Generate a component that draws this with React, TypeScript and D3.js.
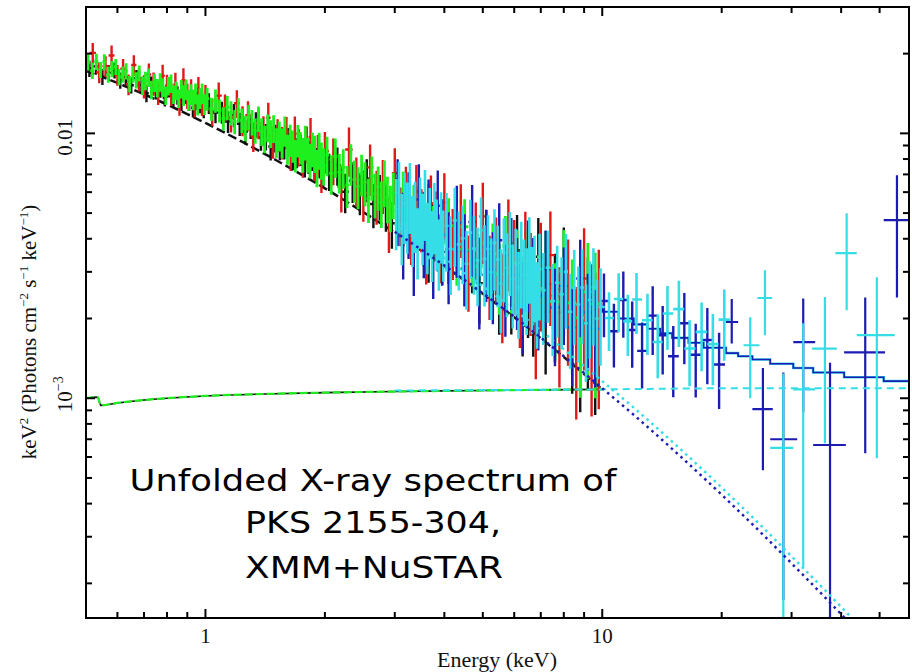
import React from "react";
import * as d3 from "d3";

const WIDTH = 912;
const HEIGHT = 672;
const PLOT = { left: 86, right: 909, top: 7, bottom: 618 };

// ---------- XMM-Newton, flux in units of 1e-3 keV^2 (Photons cm^-2 s^-1 keV^-1)
// green (MOS2)
const greenEnergy = [
  0.506, 0.519, 0.531, 0.544, 0.556, 0.569, 0.581, 0.594, 0.606, 0.619, 0.631, 0.644, 0.656, 0.669, 0.681, 0.694, 0.706, 0.719, 0.731, 0.744,
  0.756, 0.769, 0.781, 0.794, 0.806, 0.819, 0.831, 0.844, 0.856, 0.869, 0.881, 0.894, 0.906, 0.919, 0.931, 0.944, 0.956, 0.969, 0.981, 0.994,
  1.01, 1.035, 1.06, 1.085, 1.11, 1.135, 1.16, 1.185, 1.21, 1.235, 1.26, 1.285, 1.31, 1.335, 1.36, 1.385, 1.41, 1.435, 1.46, 1.485,
  1.51, 1.535, 1.56, 1.585, 1.61, 1.635, 1.66, 1.685, 1.71, 1.735, 1.76, 1.785, 1.81, 1.835, 1.86, 1.885, 1.91, 1.935, 1.96, 1.985,
  2.025, 2.075, 2.125, 2.175, 2.225, 2.275, 2.325, 2.375, 2.425, 2.475, 2.525, 2.575, 2.625, 2.675, 2.725, 2.775, 2.825, 2.875, 2.925, 2.975,
  3.05, 3.15, 3.25, 3.35, 3.45, 3.55, 3.65, 3.75, 3.85, 3.95,
  4.1, 4.3, 4.5, 4.7, 4.9, 5.1, 5.3, 5.5, 5.7, 5.9, 6.1, 6.3, 6.5, 6.7, 6.9,
  7.2, 7.6, 8.0, 8.4, 8.8, 9.2, 9.6,
];
const greenFlux = [
  18.56, 17.26, 18.67, 17.4, 18.61, 16.68, 17.53, 17.85, 16.35, 16.68, 17.18, 15.39, 16.7, 15.9, 16.87, 15.16, 15.81, 16.28, 14.63, 15.56,
  14.84, 15.61, 14.91, 13.91, 15.12, 15.44, 14.04, 14.5, 13.56, 14.72, 13.93, 14.66, 13.34, 14.06, 13.43, 14.15, 12.85, 13.57, 14.15, 12.88,
  13.52, 12.39, 13.3, 12.21, 11.4, 12.53, 11.97, 11.09, 12.28, 11.2, 10.49, 11.53, 11.04, 10.26, 11.37, 10.19, 9.55, 10.52, 10.0, 10.45,
  9.26, 9.82, 9.23, 10.24, 8.75, 9.46, 9.0, 8.28, 9.43, 8.88, 8.36, 9.3, 8.36, 7.94, 8.77, 8.44, 7.46, 8.67, 7.96, 7.56,
  8.3, 7.07, 8.18, 7.14, 7.44, 6.38, 7.71, 6.69, 6.31, 7.04, 6.54, 5.67, 6.88, 5.92, 6.3, 5.49, 6.58, 5.72, 5.29, 5.92,
  5.18, 5.87, 4.57, 5.23, 4.84, 4.1, 5.18, 4.29, 4.53, 3.86,
  4.48, 3.64, 4.44, 3.62, 3.15, 3.86, 3.51, 2.95, 3.75, 2.99, 3.25, 2.58, 3.28, 2.83, 2.6,
  3.1, 2.31, 3.02, 2.29, 2.01, 2.52, 2.27,
];
const greenErr = [
  0.07, 0.07, 0.07, 0.07, 0.07, 0.07, 0.07, 0.07, 0.07, 0.07, 0.07, 0.07, 0.07, 0.07, 0.07, 0.08, 0.08, 0.08, 0.08, 0.08,
  0.08, 0.08, 0.08, 0.08, 0.08, 0.08, 0.08, 0.08, 0.08, 0.08, 0.09, 0.09, 0.09, 0.09, 0.09, 0.09, 0.09, 0.09, 0.09, 0.09,
  0.1, 0.1, 0.1, 0.1, 0.1, 0.105, 0.105, 0.105, 0.105, 0.105, 0.11, 0.11, 0.11, 0.11, 0.11, 0.12, 0.12, 0.12, 0.12, 0.12,
  0.13, 0.13, 0.13, 0.13, 0.13, 0.14, 0.14, 0.14, 0.14, 0.14, 0.15, 0.15, 0.15, 0.15, 0.15, 0.16, 0.16, 0.16, 0.16, 0.16,
  0.17, 0.17, 0.17, 0.17, 0.17, 0.18, 0.18, 0.18, 0.18, 0.18, 0.19, 0.19, 0.19, 0.19, 0.19, 0.2, 0.2, 0.2, 0.2, 0.2,
  0.22, 0.22, 0.22, 0.22, 0.22, 0.24, 0.24, 0.24, 0.24, 0.24,
  0.27, 0.27, 0.27, 0.27, 0.27, 0.3, 0.3, 0.3, 0.3, 0.3, 0.33, 0.33, 0.33, 0.33, 0.33,
  0.38, 0.4, 0.43, 0.46, 0.5, 0.53, 0.56,
];

// red (MOS1)
const redEnergy = [
  0.52, 0.54, 0.56, 0.58, 0.6, 0.62, 0.64, 0.66, 0.68, 0.7, 0.72, 0.74, 0.76, 0.78, 0.8, 0.82, 0.84, 0.86, 0.88, 0.9, 0.92, 0.94, 0.96, 0.98, 1.0,
  1.04, 1.08, 1.12, 1.16, 1.2, 1.24, 1.28, 1.32, 1.36, 1.4, 1.44, 1.48, 1.52, 1.56, 1.6, 1.64, 1.68, 1.72, 1.76, 1.8, 1.84, 1.88, 1.92, 1.96, 2.0,
  2.1, 2.2, 2.3, 2.4, 2.5, 2.6, 2.7, 2.8, 2.9, 3.0,
  3.1, 3.2, 3.3, 3.4, 3.5, 3.6, 3.7, 3.8, 3.9, 4.0,
  4.2, 4.4, 4.6, 4.8, 5.0, 5.2, 5.4, 5.6, 5.8, 6.0, 6.2, 6.4, 6.6, 6.8, 7.0,
  7.4, 7.8, 8.2, 8.6, 9.0, 9.4, 9.8,
];
const redFlux = [
  20.13, 17.0, 17.94, 19.68, 16.62, 17.53, 15.32, 18.11, 15.99, 15.06, 16.69, 15.42, 14.23, 16.5, 15.12, 14.1, 15.27, 13.11, 15.87, 13.9, 14.43, 12.92, 14.72, 13.07, 13.71,
  12.09, 13.88, 12.51, 11.46, 13.0, 11.21, 11.7, 9.77, 10.92, 10.27, 11.45, 9.32, 9.91, 9.27, 10.12, 8.59, 9.98, 8.93, 8.09, 9.16, 9.69, 8.06, 8.35, 7.26, 8.58,
  7.97, 6.28, 8.69, 6.7, 5.95, 7.44, 5.87, 6.45, 4.65, 7.08,
  5.0, 5.99, 4.3, 6.03, 4.86, 3.68, 5.42, 4.71, 3.83, 5.48,
  3.99, 4.91, 3.12, 4.12, 4.86, 3.04, 3.54, 2.56, 4.08, 3.39, 2.58, 3.59, 2.96, 2.07, 3.19,
  3.47, 2.11, 2.65, 1.73, 2.83, 2.03, 2.27,
];
const redErr = [
  0.09, 0.09, 0.09, 0.09, 0.09, 0.09, 0.09, 0.09, 0.1, 0.1, 0.1, 0.1, 0.1, 0.1, 0.1, 0.1, 0.11, 0.11, 0.11, 0.11, 0.11, 0.11, 0.11, 0.11, 0.11,
  0.12, 0.12, 0.12, 0.12, 0.12, 0.13, 0.13, 0.13, 0.13, 0.13, 0.14, 0.14, 0.14, 0.14, 0.14, 0.16, 0.16, 0.16, 0.16, 0.16, 0.18, 0.18, 0.18, 0.18, 0.18,
  0.2, 0.2, 0.21, 0.21, 0.22, 0.22, 0.23, 0.23, 0.24, 0.24,
  0.25, 0.25, 0.26, 0.26, 0.27, 0.27, 0.28, 0.28, 0.29, 0.29,
  0.3, 0.31, 0.32, 0.33, 0.34, 0.35, 0.36, 0.37, 0.38, 0.39, 0.4, 0.41, 0.42, 0.43, 0.44,
  0.46, 0.48, 0.5, 0.52, 0.55, 0.58, 0.6,
];

// black (pn)
const blackEnergy = [
  0.51, 0.53, 0.55, 0.57, 0.59, 0.61, 0.63, 0.65, 0.67, 0.69, 0.71, 0.73, 0.75, 0.77, 0.79, 0.81, 0.83, 0.85, 0.87, 0.89, 0.91, 0.93, 0.95, 0.97, 0.99,
  1.02, 1.06, 1.1, 1.14, 1.18, 1.22, 1.26, 1.3, 1.34, 1.38, 1.42, 1.46, 1.5, 1.54, 1.58, 1.62, 1.66, 1.7, 1.74, 1.78, 1.82, 1.86, 1.9, 1.94, 1.98,
  2.05, 2.15, 2.25, 2.35, 2.45, 2.55, 2.65, 2.75, 2.85, 2.95,
  3.05, 3.15, 3.25, 3.35, 3.45, 3.55, 3.65, 3.75, 3.85, 3.95,
  4.1, 4.3, 4.5, 4.7, 4.9, 5.1, 5.3, 5.5, 5.7, 5.9, 6.1, 6.3, 6.5, 6.7, 6.9,
  7.2, 7.6, 8.0, 8.4, 8.8, 9.2, 9.6,
];
const blackFlux = [
  17.57, 17.9, 16.36, 16.93, 17.31, 15.86, 16.31, 15.2, 16.15, 15.21, 14.17, 15.24, 14.5, 14.73, 13.66, 14.84, 13.66, 13.94, 13.21, 14.04, 13.2, 12.49, 13.33, 12.94, 12.39,
  13.0, 11.99, 12.01, 11.08, 11.73, 10.87, 10.15, 10.63, 10.82, 9.65, 9.74, 8.92, 9.63, 8.99, 9.11, 9.32, 8.35, 8.49, 8.7, 7.88, 8.17, 8.39, 7.69, 7.9, 7.39,
  7.22, 7.59, 6.02, 6.62, 5.99, 6.74, 5.41, 5.83, 5.31, 4.58,
  5.62, 4.72, 4.88, 4.14, 5.13, 4.24, 3.59, 4.42, 4.01, 3.57,
  3.65, 4.24, 3.09, 3.51, 2.72, 3.93, 3.07, 2.59, 3.13, 2.68, 3.62, 2.28, 2.72, 2.35, 3.42,
  2.12, 2.44, 3.02, 2.0, 1.77, 2.24, 1.92,
];
const blackErr = [
  0.07, 0.07, 0.07, 0.07, 0.07, 0.07, 0.07, 0.07, 0.075, 0.075, 0.075, 0.075, 0.075, 0.075, 0.075, 0.08, 0.08, 0.08, 0.08, 0.08, 0.08, 0.08, 0.08, 0.08, 0.08,
  0.09, 0.09, 0.095, 0.095, 0.1, 0.1, 0.105, 0.105, 0.11, 0.11, 0.115, 0.115, 0.12, 0.12, 0.125, 0.125, 0.13, 0.13, 0.135, 0.135, 0.14, 0.14, 0.145, 0.145, 0.15,
  0.16, 0.165, 0.17, 0.175, 0.18, 0.185, 0.19, 0.195, 0.2, 0.2,
  0.21, 0.21, 0.22, 0.22, 0.23, 0.23, 0.24, 0.24, 0.25, 0.25,
  0.26, 0.27, 0.28, 0.29, 0.3, 0.31, 0.32, 0.33, 0.34, 0.35, 0.36, 0.37, 0.38, 0.39, 0.4,
  0.42, 0.44, 0.46, 0.48, 0.5, 0.52, 0.55,
];

// ---------- NuSTAR
// blue (FPMA)
const blueEnergy = [
  3.05, 3.15, 3.25, 3.35, 3.45, 3.55, 3.65, 3.75, 3.85, 3.95,
  4.1, 4.3, 4.5, 4.7, 4.9, 5.1, 5.3, 5.5, 5.7, 5.9, 6.1, 6.3, 6.5, 6.7, 6.9,
  7.2, 7.6, 8.0, 8.4, 8.8, 9.2, 9.6,
  10.1, 10.7, 11.3, 11.9, 12.6, 13.4, 14.2, 15.1, 16.1, 17.2, 18.4, 19.7,
];
const blueFlux = [
  5.87, 4.39, 5.24, 3.8, 5.62, 4.43, 4.92, 3.7, 5.33, 4.15,
  3.65, 4.6, 3.59, 4.63, 2.93, 3.72, 3.07, 3.95, 2.75, 3.47, 2.92, 2.37, 3.4, 2.92, 2.44,
  3.07, 2.2, 2.65, 1.85, 2.83, 2.11, 1.83,
  2.33, 1.79, 2.35, 1.81, 1.51, 2.05, 1.73, 1.44, 1.92, 1.46, 1.66, 1.34,
];
const blueErr = [
  0.36, 0.36, 0.36, 0.36, 0.36, 0.36, 0.36, 0.36, 0.36, 0.36,
  0.38, 0.38, 0.38, 0.38, 0.38, 0.38, 0.38, 0.38, 0.38, 0.38, 0.38, 0.38, 0.38, 0.38, 0.38,
  0.4, 0.4, 0.4, 0.4, 0.4, 0.4, 0.4,
  0.27, 0.27, 0.28, 0.28, 0.28, 0.29, 0.29, 0.3, 0.3, 0.31, 0.32, 0.32,
];
// cyan (FPMB)
const cyanEnergy = [
  3.025, 3.075, 3.125, 3.175, 3.225, 3.275, 3.325, 3.375, 3.425, 3.475, 3.525, 3.575, 3.625, 3.675, 3.725, 3.775, 3.825, 3.875, 3.925, 3.975,
  4.05, 4.15, 4.25, 4.35, 4.45, 4.55, 4.65, 4.75, 4.85, 4.95, 5.05, 5.15, 5.25, 5.35, 5.45,
  5.55, 5.65, 5.75, 5.85, 5.95, 6.05, 6.15, 6.25, 6.35, 6.45, 6.55, 6.65, 6.75, 6.85, 6.95,
  7.1, 7.3, 7.5, 7.7, 7.9, 8.1, 8.3, 8.5, 8.7, 8.9, 9.1, 9.3, 9.5, 9.7, 9.9,
  10.4, 11.0, 11.6, 12.2, 13.0, 13.8, 14.6, 15.6, 16.6, 17.8, 19.0, 20.3,
];
const cyanFlux = [
  5.17, 6.0, 4.54, 5.46, 5.02, 5.95, 4.47, 5.05, 4.01, 5.24, 4.55, 5.6, 4.2, 4.78, 3.92, 5.0, 4.33, 3.64, 4.61, 3.93,
  4.48, 3.66, 4.69, 3.81, 4.02, 3.22, 4.22, 3.67, 3.32, 4.31, 3.36, 3.66, 2.99, 3.86, 3.34,
  2.71, 3.54, 3.11, 3.74, 2.82, 3.21, 2.62, 3.41, 2.92, 2.71, 3.55, 2.74, 3.02, 2.4, 3.07,
  2.56, 3.11, 2.33, 2.73, 2.47, 3.0, 2.12, 2.61, 2.26, 2.62, 1.92, 2.35, 2.63, 2.0, 2.21,
  2.01, 2.37, 1.95, 2.36, 1.97, 1.63, 2.09, 2.17, 1.54, 1.78, 1.6, 1.98,
];
const cyanErr = [
  0.3, 0.3, 0.3, 0.3, 0.3, 0.3, 0.3, 0.3, 0.3, 0.3, 0.3, 0.3, 0.3, 0.3, 0.3, 0.3, 0.3, 0.3, 0.3, 0.3,
  0.33, 0.33, 0.33, 0.33, 0.33, 0.33, 0.33, 0.33, 0.33, 0.33, 0.34, 0.34, 0.34, 0.34, 0.34,
  0.35, 0.35, 0.35, 0.35, 0.35, 0.36, 0.36, 0.36, 0.36, 0.36, 0.36, 0.36, 0.36, 0.36, 0.36,
  0.38, 0.38, 0.38, 0.38, 0.38, 0.39, 0.39, 0.39, 0.39, 0.39, 0.4, 0.4, 0.4, 0.4, 0.4,
  0.25, 0.25, 0.26, 0.26, 0.26, 0.27, 0.27, 0.28, 0.28, 0.29, 0.3, 0.3,
];

// sparse high-energy NuSTAR bins
const blueHiEnergy = [21.2, 25.4, 28.6, 32.1, 37.5, 46.0, 55.3];
const blueHiBinLo = [20.5, 23.9, 26.5, 30.3, 34.0, 40.7, 51.2];
const blueHiBinHi = [22.0, 26.9, 31.0, 34.4, 41.1, 51.6, 60.0];
const blueHiFlux = [1.94, 0.909, 0.7, 1.63, 0.666, 1.49, 4.7];
const blueHiFluxLo = [1.61, 0.535, 0.173, 0.885, 0.05, 0.62, 2.4];
const blueHiFluxHi = [2.37, 1.3, 1.25, 2.38, 1.36, 2.4, 6.95];

const cyanHiEnergy = [23.6, 25.7, 28.6, 32.1, 36.4, 41.3, 49.2];
const cyanHiBinLo = [22.7, 24.6, 26.5, 30.3, 33.8, 38.7, 43.8];
const cyanHiBinHi = [24.9, 26.8, 30.3, 34.4, 39.0, 43.8, 54.6];
const cyanHiFlux = [1.585, 2.39, 0.65, 1.08, 1.54, 3.53, 1.73];
const cyanHiFluxLo = [1.0, 1.73, 0.05, 0.23, 0.676, 2.15, 0.594];
const cyanHiFluxHi = [2.02, 3.04, 1.24, 1.92, 2.41, 4.99, 2.86];

// ---------- model components
const xmmSteepEnergy = [0.5, 0.6, 0.7, 0.8, 0.9, 1, 1.25, 1.5, 2, 2.5, 3, 4, 5, 6, 8, 10];
const xmmSteep = [17.2, 15.5, 14.05, 12.85, 11.82, 10.95, 9.22, 7.95, 6.2, 5.04, 4.22, 3.15, 2.48, 2.02, 1.43, 1.08];
const xmmConstEnergy = [0.5, 0.535, 0.545, 0.6, 0.7, 0.8, 1, 1.5, 2, 3, 5, 10];
const xmmConst = [1.0, 1.01, 0.94, 0.96, 0.985, 1.0, 1.02, 1.04, 1.05, 1.06, 1.07, 1.08];

const nuSteepEnergy = [3, 4, 5, 6, 8, 10, 12, 15, 20, 25, 30, 40, 50, 60];
const nuSteepA = [4.25, 3.17, 2.49, 2.03, 1.44, 1.09, 0.866, 0.644, 0.432, 0.313, 0.238, 0.153, 0.107, 0.079];
const nuSteepB = [4.53, 3.38, 2.65, 2.16, 1.53, 1.16, 0.922, 0.686, 0.46, 0.333, 0.253, 0.163, 0.114, 0.084];
const nuConstEnergy = [3, 10, 20, 60];
const nuConst = [1.07, 1.08, 1.09, 1.09];

const nuTotalEdges = [3, 3.5, 4, 4.5, 5, 5.5, 6, 6.5, 7, 7.5, 8, 8.5, 9, 9.5, 10, 11, 12, 13, 14, 15, 16.5, 18, 20.5, 22, 23.9, 26.5, 30.3, 34, 40.7, 51.2, 60];
const nuTotal = [5.1, 4.6, 4.1, 3.78, 3.47, 3.22, 3.0, 2.85, 2.7, 2.58, 2.47, 2.39, 2.3, 2.22, 2.12, 2.0, 1.9, 1.83, 1.76, 1.69, 1.62, 1.55, 1.48, 1.44, 1.4, 1.35, 1.3, 1.25, 1.2, 1.16];

// ---------- axes
const xMajorTicks = [1, 10];
const xTickLabels = ["1", "10"];
const xMinorTicks = [0.6, 0.7, 0.8, 0.9, 2, 3, 4, 5, 6, 7, 8, 9, 20, 30, 40, 50];
const yMajorTicks = [1, 10];
const yMinorTicks = [0.2, 0.3, 0.4, 0.5, 0.6, 0.7, 0.8, 0.9, 2, 3, 4, 5, 6, 7, 8, 9, 20, 30];
const annotationLines = ["Unfolded X-ray spectrum of", "PKS 2155-304,", "XMM+NuSTAR"];

const COLORS = {
  black: "#111111",
  red: "#e01818",
  green: "#1ef01e",
  blue: "#1c1cb4",
  cyan: "#35dde6",
};

const x = d3.scaleLog().domain([0.5, 59.3]).range([PLOT.left, PLOT.right]);
const y = d3.scaleLog().domain([0.148, 30]).range([PLOT.bottom, PLOT.top]);
const yFloor = 0.01;

function binEdges(c: number[]): [number, number][] {
  return c.map((v, i) => {
    const prev = i > 0 ? c[i - 1] : (v * v) / c[i + 1];
    const next = i < c.length - 1 ? c[i + 1] : (v * v) / c[i - 1];
    return [Math.sqrt(prev * v), Math.sqrt(v * next)];
  });
}

function barsPath(energy: number[], flux: number[], errFrac: number[]) {
  const edges = binEdges(energy);
  let p = "";
  energy.forEach((e, i) => {
    const f = flux[i];
    const lo = Math.max(f * (1 - errFrac[i]), yFloor);
    const hi = f * (1 + errFrac[i]);
    const cx = x(e);
    p += `M${cx},${y(lo)}V${y(hi)}`;
    p += `M${x(edges[i][0])},${y(f)}H${x(edges[i][1])}`;
  });
  return p;
}

function sparsePath(e: number[], bl: number[], bh: number[], f: number[], fl: number[], fh: number[]) {
  let p = "";
  e.forEach((v, i) => {
    const cx = x(v);
    p += `M${cx},${y(Math.max(fl[i], yFloor))}V${y(fh[i])}`;
    p += `M${x(bl[i])},${y(f[i])}H${x(Math.min(bh[i], 59.3))}`;
  });
  return p;
}

const curve = (es: number[], vs: number[]) =>
  d3
    .line<number>()
    .x((_, i) => x(es[i]))
    .y((v) => y(v))
    .curve(d3.curveMonotoneX)(vs) || "";

function stepPath(edges: number[], vals: number[]) {
  let p = "";
  vals.forEach((v, i) => {
    p += `${i === 0 ? "M" : "L"}${x(edges[i])},${y(v)}H${x(Math.min(edges[i + 1], 59.3))}`;
  });
  return p;
}

export default function App() {
  const serif = "'Liberation Serif', 'Times New Roman', serif";
  const majorLen = 9;
  const minorLen = 6;
  return (
    <svg
      width={WIDTH}
      height={HEIGHT}
      style={{ position: "absolute", left: 0, top: 0, background: "#fff" }}
      xmlns="http://www.w3.org/2000/svg"
    >
      <rect x={0} y={0} width={WIDTH} height={HEIGHT} fill="#fff" />
      <defs>
        <clipPath id="plotClip">
          <rect x={PLOT.left} y={PLOT.top} width={PLOT.right - PLOT.left} height={PLOT.bottom - PLOT.top} />
        </clipPath>
      </defs>

      <g clipPath="url(#plotClip)" fill="none">
        {/* XMM model components */}
        <path d={curve(xmmConstEnergy, xmmConst)} stroke={COLORS.black} strokeWidth={1.6} />
        <path d={curve(xmmConstEnergy, xmmConst)} stroke={COLORS.green} strokeWidth={2.2} strokeDasharray="8 3" />
        <path d={curve(xmmSteepEnergy, xmmSteep)} stroke={COLORS.black} strokeWidth={2.5} strokeDasharray="9 4" />

        {/* NuSTAR total model (under the data) */}
        <path d={stepPath(nuTotalEdges, nuTotal)} stroke={COLORS.cyan} strokeWidth={2.6} />
        <path d={stepPath(nuTotalEdges, nuTotal)} stroke={COLORS.blue} strokeWidth={1.6} />

        {/* XMM data */}
        <path d={barsPath(blackEnergy, blackFlux, blackErr)} stroke={COLORS.black} strokeWidth={2.4} />
        <path d={barsPath(redEnergy, redFlux, redErr)} stroke={COLORS.red} strokeWidth={2.4} />
        <path d={barsPath(greenEnergy, greenFlux, greenErr)} stroke={COLORS.green} strokeWidth={2.8} />

        {/* NuSTAR data */}
        <path d={barsPath(blueEnergy, blueFlux, blueErr)} stroke={COLORS.blue} strokeWidth={2.4} />
        <path
          d={sparsePath(blueHiEnergy, blueHiBinLo, blueHiBinHi, blueHiFlux, blueHiFluxLo, blueHiFluxHi)}
          stroke={COLORS.blue}
          strokeWidth={2.2}
        />
        <path d={barsPath(cyanEnergy, cyanFlux, cyanErr)} stroke={COLORS.cyan} strokeWidth={2.6} />
        <path
          d={sparsePath(cyanHiEnergy, cyanHiBinLo, cyanHiBinHi, cyanHiFlux, cyanHiFluxLo, cyanHiFluxHi)}
          stroke={COLORS.cyan}
          strokeWidth={2.2}
        />

        {/* NuSTAR model components */}
        <path d={curve(nuConstEnergy, nuConst)} stroke={COLORS.cyan} strokeWidth={2} strokeDasharray="7 5" />
        <path d={curve(nuSteepEnergy, nuSteepB)} stroke={COLORS.cyan} strokeWidth={2.5} strokeDasharray="2.5 4" />
        <path d={curve(nuSteepEnergy, nuSteepA)} stroke={COLORS.blue} strokeWidth={2.5} strokeDasharray="2.5 4" />
      </g>

      {/* frame */}
      <rect
        x={PLOT.left}
        y={PLOT.top}
        width={PLOT.right - PLOT.left}
        height={PLOT.bottom - PLOT.top}
        fill="none"
        stroke="#000"
        strokeWidth={2}
      />

      {/* ticks */}
      <g stroke="#000" strokeWidth={2}>
        {xMajorTicks.map((t) => (
          <g key={`xm${t}`}>
            <line x1={x(t)} x2={x(t)} y1={PLOT.bottom} y2={PLOT.bottom - majorLen} />
            <line x1={x(t)} x2={x(t)} y1={PLOT.top} y2={PLOT.top + majorLen} />
          </g>
        ))}
        {xMinorTicks.map((t) => (
          <g key={`xn${t}`}>
            <line x1={x(t)} x2={x(t)} y1={PLOT.bottom} y2={PLOT.bottom - minorLen} />
            <line x1={x(t)} x2={x(t)} y1={PLOT.top} y2={PLOT.top + minorLen} />
          </g>
        ))}
        {yMajorTicks.map((t) => (
          <g key={`ym${t}`}>
            <line x1={PLOT.left} x2={PLOT.left + majorLen} y1={y(t)} y2={y(t)} />
            <line x1={PLOT.right} x2={PLOT.right - majorLen} y1={y(t)} y2={y(t)} />
          </g>
        ))}
        {yMinorTicks.map((t) => (
          <g key={`yn${t}`}>
            <line x1={PLOT.left} x2={PLOT.left + minorLen} y1={y(t)} y2={y(t)} />
            <line x1={PLOT.right} x2={PLOT.right - minorLen} y1={y(t)} y2={y(t)} />
          </g>
        ))}
      </g>

      {/* tick labels */}
      <g fontFamily={serif} fontSize={21} fill="#111">
        {xMajorTicks.map((t, i) => (
          <text key={`xl${t}`} x={x(t)} y={643} textAnchor="middle">
            {xTickLabels[i]}
          </text>
        ))}
        <text transform={`translate(72,${y(10) + 4}) rotate(-90)`} textAnchor="middle">
          0.01
        </text>
        <text transform={`translate(72,${y(1) - 4}) rotate(-90)`} textAnchor="middle">
          10
          <tspan fontSize={14} dy={-9}>
            −3
          </tspan>
        </text>
      </g>

      {/* axis titles */}
      <text x={497} y={667} textAnchor="middle" fontFamily={serif} fontSize={22} fill="#111">
        Energy (keV)
      </text>
      <text transform="translate(36,332) rotate(-90)" textAnchor="middle" fontFamily={serif} fontSize={21} fill="#111">
        keV
        <tspan fontSize={13} dy={-8}>2</tspan>
        <tspan dy={8}> (Photons cm</tspan>
        <tspan fontSize={13} dy={-8}>−2</tspan>
        <tspan dy={8}> s</tspan>
        <tspan fontSize={13} dy={-8}>−1</tspan>
        <tspan dy={8}> keV</tspan>
        <tspan fontSize={13} dy={-8}>−1</tspan>
        <tspan dy={8}>)</tspan>
      </text>

      {/* annotation */}
      <g fontFamily="'Comic Sans MS', 'DejaVu Sans', sans-serif" fontSize={31} fill="#000" textAnchor="middle">
        <text x={373} y={491} textLength={487} lengthAdjust="spacingAndGlyphs">
          {annotationLines[0]}
        </text>
        <text x={373} y={533} textLength={256} lengthAdjust="spacingAndGlyphs">
          {annotationLines[1]}
        </text>
        <text x={374} y={578} textLength={258} lengthAdjust="spacingAndGlyphs">
          {annotationLines[2]}
        </text>
      </g>
    </svg>
  );
}
